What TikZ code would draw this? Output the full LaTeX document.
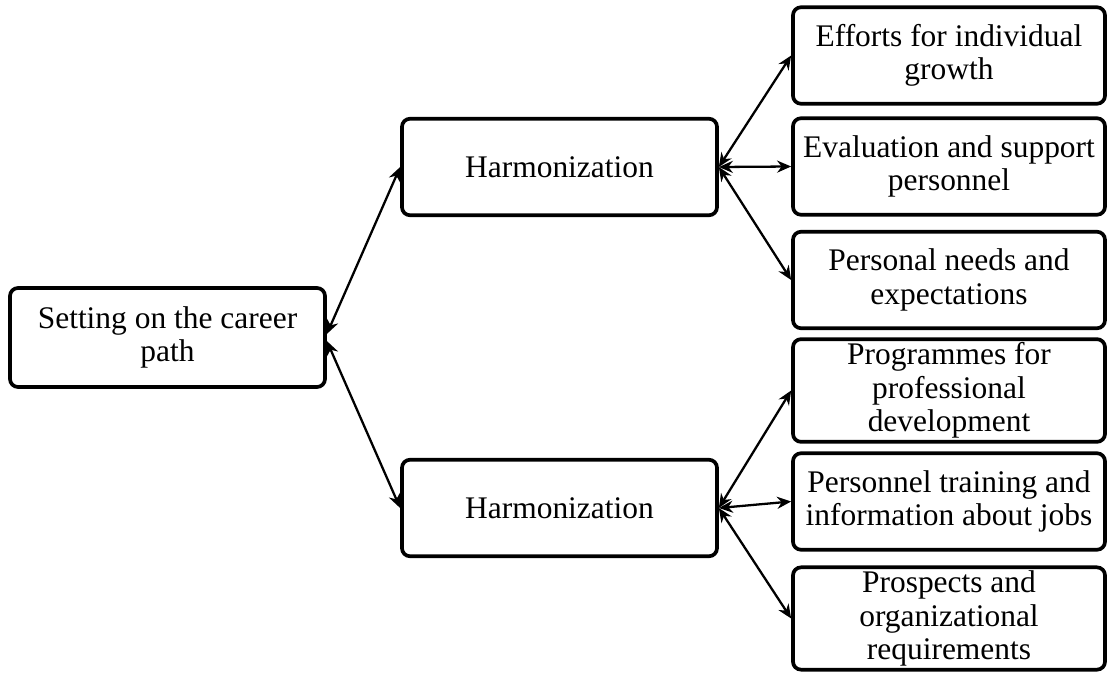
\documentclass[tikz,border=0pt]{standalone}
\usepackage{fontspec}
\setmainfont{Liberation Serif}
\usetikzlibrary{arrows.meta}

\begin{document}
\begin{tikzpicture}
    %
    % `block' is used for every box, `link' for the double arrows.
    \tikzstyle{block} = [draw,line width=2.1pt,rounded corners=1.6mm,align=center,minimum width=6.28cm,minimum height=1.93cm,inner sep=2pt,font=\fontsize{17.9}{19}\selectfont]
    \tikzstyle{link} = [line width=1.3pt,{Stealth[length=2.8mm,width=2.4mm]}-{Stealth[length=2.8mm,width=2.4mm]}]
    %
    \useasboundingbox (0,0) rectangle (22.36,-13.48);
    %
    % Root
    \node[block,minimum width=6.3cm,minimum height=1.98cm] (set) at (3.35,-6.75) {Setting on the career\\path};
    %
    % Column 1
    \node[block,minimum width=6.3cm] (harm1) at (11.19,-3.34) {Harmonization};
    \node[block,minimum width=6.3cm] (harm2) at (11.19,-10.16) {Harmonization};
    %
    % Column 2
    \node[block,minimum width=6.24cm] (grow) at (18.98,-1.11) {Efforts for individual\\growth};
    \node[block,minimum width=6.24cm] (eval) at (18.98,-3.33) {Evaluation and support\\personnel};
    \node[block,minimum width=6.24cm] (need) at (18.98,-5.6) {Personal needs and\\expectations};
    \node[block,minimum width=6.24cm] (prog) at (18.98,-7.81) {Programmes for\\professional\\development};
    \node[block,minimum width=6.24cm] (train) at (18.98,-10.03) {Personnel training and\\information about jobs};
    \node[block,minimum width=6.24cm,minimum height=2.02cm] (pros) at (18.98,-12.37) {Prospects and\\organizational\\requirements};
    %
    % Links
    \draw[link] ([yshift=2pt]set.east) -- (harm1.west);
    \draw[link] ([yshift=-2pt]set.east) -- (harm2.west);
    \draw[link] (harm1.east) -- (grow.west);
    \draw[link] (harm1.east) -- (eval.west);
    \draw[link] (harm1.east) -- (need.west);
    \draw[link] (harm2.east) -- (prog.west);
    \draw[link] (harm2.east) -- (train.west);
    \draw[link] (harm2.east) -- (pros.west);
    %
\end{tikzpicture}
\end{document}
